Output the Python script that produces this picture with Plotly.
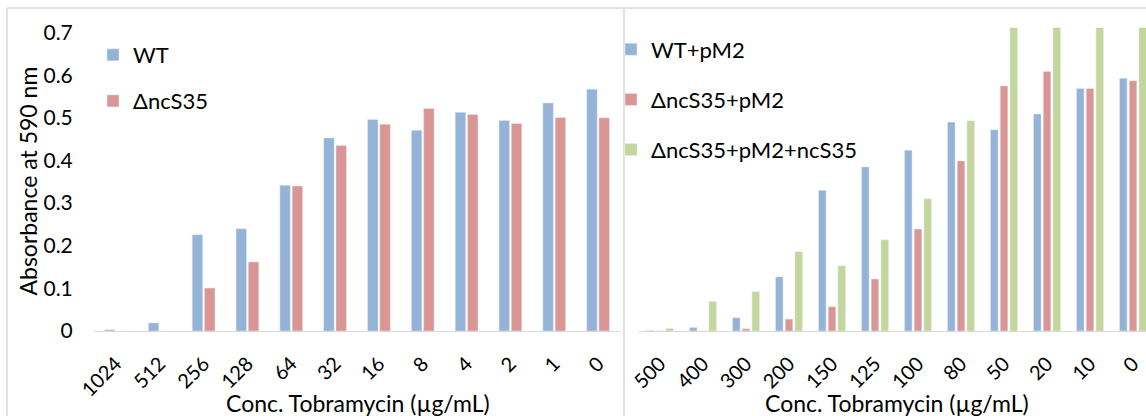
import plotly.graph_objects as go

# ---------------- data ----------------
left_categories = ["1024", "512", "256", "128", "64", "32", "16", "8", "4", "2", "1", "0"]
wt = [0.003, 0.019, 0.226, 0.240, 0.342, 0.453, 0.496, 0.471, 0.513, 0.494, 0.535, 0.567]
dncs35 = [-0.002, -0.002, 0.101, 0.162, 0.340, 0.435, 0.485, 0.522, 0.508, 0.487, 0.501, 0.500]

right_categories = ["500", "400", "300", "200", "150", "125", "100", "80", "50", "20", "10", "0"]
wt_pm2 = [0.001, 0.008, 0.031, 0.127, 0.330, 0.385, 0.424, 0.490, 0.472, 0.509, 0.569, 0.593]
dncs35_pm2 = [0.0, 0.0, 0.005, 0.028, 0.057, 0.122, 0.239, 0.399, 0.575, 0.609, 0.569, 0.587]
dncs35_pm2_ncs35 = [0.006, 0.069, 0.092, 0.186, 0.153, 0.214, 0.310, 0.493, 0.72, 0.72, 0.72, 0.72]

y_ticks = [0, 0.1, 0.2, 0.3, 0.4, 0.5, 0.6, 0.7]
y_ticktext = ["0", "0.1", "0.2", "0.3", "0.4", "0.5", "0.6", "0.7"]

# ---------------- style ----------------
BLUE = "#95B3D7"
RED = "#D99694"
GREEN = "#C3D69B"
FONT = "Lato"
W, H = 1146, 416

def px(x):
    return x / W

def py(y):
    return 1 - y / H

# bar geometry (category units)
ls, lw = 0.28, 0.24      # left: step, width
rs, rw = 0.226, 0.176    # right: step, width

fig = go.Figure()
fig.add_trace(go.Bar(x=left_categories, y=wt, name="WT", marker_color=BLUE,
                     width=lw, offset=-ls / 2 - lw / 2, xaxis="x", yaxis="y",
                     legend="legend", legendgroup="a"))
fig.add_trace(go.Bar(x=left_categories, y=dncs35, name="ΔncS35", marker_color=RED,
                     width=lw, offset=ls / 2 - lw / 2, xaxis="x", yaxis="y",
                     legend="legend", legendgroup="b"))
fig.add_trace(go.Bar(x=right_categories, y=wt_pm2, name="WT+pM2", marker_color=BLUE,
                     width=rw, offset=-rs - rw / 2, xaxis="x2", yaxis="y2",
                     legend="legend2", legendgroup="c"))
fig.add_trace(go.Bar(x=right_categories, y=dncs35_pm2, name="ΔncS35+pM2", marker_color=RED,
                     width=rw, offset=-rw / 2, xaxis="x2", yaxis="y2",
                     legend="legend2", legendgroup="d"))
fig.add_trace(go.Bar(x=right_categories, y=dncs35_pm2_ncs35, name="ΔncS35+pM2+ncS35",
                     marker_color=GREEN, width=rw, offset=rs - rw / 2, xaxis="x2", yaxis="y2",
                     legend="legend2", legendgroup="e"))

y_dom = [py(331), py(27.7)]
y_rng = [0, 0.7115]
ytickfont = dict(family=FONT, size=21, color="#000000")
xtickfont = dict(family=FONT, size=20, color="#000000")
CLEAR = "rgba(0,0,0,0)"
title_font = dict(family=FONT, size=23, color="#000000")

fig.update_layout(
    width=W, height=H,
    margin=dict(l=0, r=0, t=0, b=0, pad=0, autoexpand=False),
    paper_bgcolor="white", plot_bgcolor="white",
    barmode="overlay",
    font=dict(family=FONT, color="#000000"),
    xaxis=dict(domain=[px(94), px(620)], type="category", range=[-0.5, 11.5],
               showline=True, linecolor="#d9d9d9", linewidth=1.3, showgrid=False,
               ticks="outside", ticklen=12, tickcolor=CLEAR, tickangle=-45,
               tickfont=xtickfont, anchor="y", automargin=False),
    yaxis=dict(domain=y_dom, range=y_rng, tickvals=y_ticks, ticktext=y_ticktext,
               showgrid=False, zeroline=False, showline=False,
               ticks="outside", ticklen=16, tickcolor=CLEAR,
               tickfont=ytickfont, anchor="x", automargin=False),
    xaxis2=dict(domain=[px(638.5), 1.0], type="category", range=[-0.5, 11.302],
                showline=True, linecolor="#d9d9d9", linewidth=1.3, showgrid=False,
                ticks="outside", ticklen=12, tickcolor=CLEAR, tickangle=-45,
                tickfont=xtickfont, anchor="y2", automargin=False),
    yaxis2=dict(domain=y_dom, range=y_rng, showticklabels=False, showgrid=False,
                zeroline=False, showline=False, ticks="", anchor="x2", automargin=False),
    legend=dict(x=px(93), y=py(34), xanchor="left", yanchor="top",
                bgcolor=CLEAR, font=dict(family=FONT, size=22),
                traceorder="grouped", tracegroupgap=14.5),
    legend2=dict(x=px(611), y=py(28.5), xanchor="left", yanchor="top",
                 bgcolor=CLEAR, font=dict(family=FONT, size=22),
                 traceorder="grouped", tracegroupgap=18.5),
    annotations=[
        dict(text="Absorbance at 590 nm", x=px(27.5), y=py(181), xref="paper",
             yref="paper", showarrow=False, xanchor="center", yanchor="middle",
             textangle=-90, font=title_font),
        dict(text="Conc. Tobramycin (µg/mL)", x=px(357.5), y=py(402.5), xref="paper",
             yref="paper", showarrow=False, xanchor="center", yanchor="middle",
             font=title_font),
        dict(text="Conc. Tobramycin (µg/mL)", x=px(896.5), y=py(402.5), xref="paper",
             yref="paper", showarrow=False, xanchor="center", yanchor="middle",
             font=title_font),
    ],
    shapes=[
        dict(type="line", xref="paper", yref="paper", x0=px(7), x1=1, y0=py(8), y1=py(8),
             line=dict(color="#d9d9d9", width=1.5)),
        dict(type="line", xref="paper", yref="paper", x0=px(7), x1=px(7), y0=py(8), y1=0,
             line=dict(color="#d9d9d9", width=1.5)),
        dict(type="line", xref="paper", yref="paper", x0=px(624), x1=px(624), y0=py(8), y1=0,
             line=dict(color="#d9d9d9", width=1.5)),
    ],
)

fig.write_html("out.html")
